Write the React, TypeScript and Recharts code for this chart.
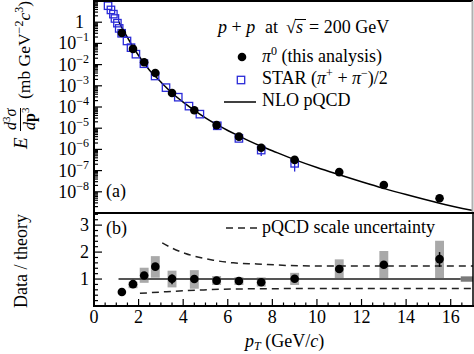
import React from "react";
import {
  ComposedChart,
  Line,
  Scatter,
  XAxis,
  YAxis,
  ErrorBar,
  ReferenceArea,
  ReferenceLine,
} from "recharts";

const FONT = '"Liberation Serif", "Times New Roman", serif';
const BLUE = "#2b2bd8";

// pi0 points (this analysis)
const pi0Pt = [1.25, 1.75, 2.25, 2.75, 3.5, 4.5, 5.5, 6.5, 7.5, 9, 11, 13, 15.5];
const pi0Xsec = [0.31, 0.055, 0.013, 0.004, 4.6e-4, 7.0e-5, 1.4e-5, 4.0e-6, 1.2e-6, 3.2e-7, 8.5e-8, 2.1e-8, 5.0e-9];
const pi0Ratio = [0.52, 0.81, 1.13, 1.46, 1.01, 1.0, 0.94, 0.93, 0.88, 1.01, 1.37, 1.53, 1.74];
const ratioErrLo = [0, 0, 0, 0.07, 0.2, 0, 0, 0, 0, 0, 0.07, 0.12, 0.29];
const ratioErrHi = [0, 0, 0, 0.07, 0.16, 0, 0, 0, 0, 0, 0.08, 0.1, 0.26];
// systematic boxes (null = no box)
const sysLo = [null, 0.66, 0.86, 1.05, 0.69, 0.64, 0.78, 0.78, 0.72, 0.78, 1.01, 1.02, 1.02];
const sysHi = [null, 0.9, 1.42, 1.85, 1.31, 1.33, 1.11, 1.07, 1.06, 1.23, 1.73, 2.04, 2.42];

// STAR (pi+ + pi-)/2
const starPt = [0.63, 0.76, 0.87, 0.94, 1.05, 1.13, 1.24, 1.48, 1.66, 1.88, 2.24, 2.74, 3.23, 3.78, 4.26, 4.75, 5.53, 6.5, 7.5, 9.0];
const starXsec = [6, 3.8, 2.4, 1.5, 0.9, 0.51, 0.3, 0.13, 0.063, 0.031, 0.011, 0.0029, 8.2e-4, 2.9e-4, 1.1e-4, 4.6e-5, 1.3e-5, 3.3e-6, 9.3e-7, 2.2e-7];
const starErrLo = [0, 0, 0, 0, 0, 0, 0, 0, 0, 0, 0, 0, 0, 0, 0, 0, 0, 0, 4.4e-7, 1.3e-7];
const starErrHi = [0, 0, 0, 0, 0, 0, 0, 0, 0, 0, 0, 0, 0, 0, 0, 0, 0, 0, 1.0e-7, 0.6e-7];

// NLO pQCD curve
const nloPt = [1.1, 1.25, 1.5, 1.75, 2, 2.25, 2.5, 2.75, 3, 3.5, 4, 4.5, 5, 5.5, 6, 6.5, 7, 7.5, 8, 9, 10, 11, 12, 13, 14, 15.5, 17];
const nloXsec = [1.1, 0.56, 0.19, 0.067, 0.027, 0.0115, 0.0053, 0.0028, 0.0015, 4.6e-4, 1.7e-4, 7.0e-5, 3.1e-5, 1.5e-5, 7.8e-6, 4.3e-6, 2.4e-6, 1.4e-6, 8.6e-7, 3.3e-7, 1.4e-7, 6.4e-8, 3.0e-8, 1.45e-8, 7.4e-9, 2.9e-9, 1.3e-9];

// scale uncertainty band
const scaleUpPt = [3.06, 3.5, 4.1, 5.35, 6.25, 7.3, 8.8, 10.6, 17];
const scaleUp = [2.34, 2.15, 1.95, 1.7, 1.6, 1.56, 1.5, 1.48, 1.48];
const scaleLoPt = [2.06, 3.26, 4.75, 6.25, 10.6, 17];
const scaleLo = [0.47, 0.53, 0.59, 0.63, 0.65, 0.65];

// normalisation box
const normBox = { x1: 16.45, x2: 17, y1: 0.9, y2: 1.1 };

// ticks
const binEdges = [1, 1.5, 2, 2.5, 3, 4, 5, 6, 7, 8, 10, 12, 14];
const xMajor = [0, 2, 4, 6, 8, 10, 12, 14, 16];
const xTicks = Array.from({ length: 34 }, (_, i) => i * 0.5);
const logTicks: number[] = [];
for (let e = -9; e <= 0; e++) for (let m = 1; m <= 9; m++) if (!(e === -9 && m === 1)) logTicks.push(m * Math.pow(10, e));
const ratioMajor = [1, 2, 3];
const ratioTicks = Array.from({ length: 17 }, (_, i) => Math.round((i + 1) * 2) / 10);

const pi0Data = pi0Pt.map((x, i) => ({ x, y: pi0Xsec[i] }));
const ratioData = pi0Pt.map((x, i) => ({ x, y: pi0Ratio[i], err: [ratioErrLo[i], ratioErrHi[i]] }));
const starData = starPt.map((x, i) => ({ x, y: starXsec[i], err: [starErrLo[i], starErrHi[i]] }));
const nloData = nloPt.map((x, i) => ({ x, y: nloXsec[i] }));
const upData = scaleUpPt.map((x, i) => ({ x, y: scaleUp[i] }));
const loData = scaleLoPt.map((x, i) => ({ x, y: scaleLo[i] }));

const isMajorLog = (v: number) => {
  const e = Math.round(Math.log10(v));
  return Math.abs(v / Math.pow(10, e) - 1) < 1e-6;
};

const LogTick = (p: any) => {
  const { x, y, payload } = p;
  const v = payload.value;
  const major = isMajorLog(v);
  const e = Math.round(Math.log10(v));
  return (
    <g>
      <line x1={x} x2={x + (major ? 8 : 4)} y1={y} y2={y} stroke="#000" strokeWidth={1.2} />
      {major && e === 0 && (
        <text x={x - 10} y={y + 6} textAnchor="end" fontSize={18} fontFamily={FONT} fill="#000">1</text>
      )}
      {major && e !== 0 && (
        <text x={x - 5} y={y + 6} textAnchor="end" fontSize={18} fontFamily={FONT} fill="#000">
          10<tspan dy={-8} fontSize={12}>{"\u2212" + Math.abs(e)}</tspan>
        </text>
      )}
    </g>
  );
};

const RatioTick = (side: "l" | "r") => (p: any) => {
  const { x, y, payload } = p;
  const v = payload.value;
  const major = ratioMajor.includes(v);
  const len = major ? 8 : 4;
  return (
    <g>
      <line x1={x} x2={side === "l" ? x + len : x - len} y1={y} y2={y} stroke="#000" strokeWidth={1.2} />
      {major && side === "l" && (
        <text x={x - 5} y={y + 6} textAnchor="end" fontSize={18} fontFamily={FONT} fill="#000">{v}</text>
      )}
    </g>
  );
};

const XTick = (dir: "up" | "down", labels: boolean) => (p: any) => {
  const { x, y, payload } = p;
  const v = payload.value;
  const major = xMajor.includes(v);
  const len = major ? 7 : 3.5;
  return (
    <g>
      <line x1={x} x2={x} y1={y} y2={dir === "up" ? y - len : y + len} stroke="#000" strokeWidth={1.2} />
      {labels && major && (
        <text x={x} y={y + 17} textAnchor="middle" fontSize={18} fontFamily={FONT} fill="#000">{v}</text>
      )}
    </g>
  );
};

const EdgeTick = (p: any) => (
  <line x1={p.x} x2={p.x} y1={p.y} y2={p.y + 6} stroke="#000" strokeWidth={1.2} />
);

const Dot = (p: any) => <circle cx={p.cx} cy={p.cy} r={4.3} fill="#000" />;
const Square = (p: any) => (
  <rect x={p.cx - 3.7} y={p.cy - 3.7} width={7.4} height={7.4} fill="none" stroke={BLUE} strokeWidth={1.3} />
);

export default function App() {
  return (
    <div style={{ position: "absolute", left: 0, top: 0, width: 474, height: 354, background: "#fff" }}>
      <div style={{ position: "absolute", left: 0, top: 0 }}>
        <ComposedChart width={474} height={213} margin={{ top: 1, right: 1, bottom: 0, left: 0 }}>
          <XAxis xAxisId="b" dataKey="x" type="number" domain={[0, 17]} ticks={xTicks} interval={0}
            height={0} tickSize={0} tickMargin={0} axisLine={false} tickLine={false} tick={XTick("up", false)} allowDataOverflow />
          <XAxis xAxisId="t" orientation="top" dataKey="x" type="number" domain={[0, 17]} ticks={binEdges} interval={0}
            height={0} tickSize={0} tickMargin={0} axisLine={false} tickLine={false} tick={EdgeTick} allowDataOverflow />
          <YAxis yAxisId="l" type="number" scale="log" domain={[1e-9, 10]} ticks={logTicks} interval={0}
            width={94} tickSize={0} tickMargin={0} axisLine={false} tickLine={false} tick={LogTick} allowDataOverflow />
          <Line xAxisId="b" yAxisId="l" data={nloData} dataKey="y" type="monotone" stroke="#000" strokeWidth={1.5}
            dot={false} isAnimationActive={false} />
          <Scatter xAxisId="b" yAxisId="l" data={starData} dataKey="y" shape={Square} isAnimationActive={false}>
            <ErrorBar dataKey="err" direction="y" width={0} stroke={BLUE} strokeWidth={1.3} />
          </Scatter>
          <Scatter xAxisId="b" yAxisId="l" data={pi0Data} dataKey="y" shape={Dot} isAnimationActive={false} />
        </ComposedChart>
      </div>
      <div style={{ position: "absolute", left: 0, top: 213 }}>
        <ComposedChart width={474} height={141} margin={{ top: 0, right: 1, bottom: 0, left: 0 }}>
          <XAxis xAxisId="b" dataKey="x" type="number" domain={[0, 17]} ticks={xTicks} interval={0}
            height={48} tickSize={0} tickMargin={0} axisLine={false} tickLine={false} tick={XTick("up", true)} allowDataOverflow />
          <YAxis yAxisId="l" type="number" domain={[0, 3.45]} ticks={ratioTicks} interval={0}
            width={94} tickSize={0} tickMargin={0} axisLine={false} tickLine={false} tick={RatioTick("l")} allowDataOverflow />
          <YAxis yAxisId="r" orientation="right" type="number" domain={[0, 3.45]} ticks={ratioTicks} interval={0}
            width={0} tickSize={0} tickMargin={0} axisLine={false} tickLine={false} tick={RatioTick("r")} allowDataOverflow />
          {pi0Pt.map((x, i) =>
            sysLo[i] == null ? null : (
              <ReferenceArea key={"s" + i} xAxisId="b" yAxisId="l" x1={x - 0.2} x2={x + 0.2} y1={sysLo[i] as number}
                y2={sysHi[i] as number} fill="#a9a9a9" fillOpacity={1} stroke="none" ifOverflow="visible" />
            )
          )}
          <ReferenceArea xAxisId="b" yAxisId="l" x1={normBox.x1} x2={normBox.x2} y1={normBox.y1} y2={normBox.y2}
            fill="#7a7a7a" fillOpacity={1} stroke="none" ifOverflow="visible" />
          <ReferenceLine xAxisId="b" yAxisId="l" segment={[{ x: 1.1, y: 1 }, { x: 16.45, y: 1 }]} stroke="#555" strokeWidth={2} />
          <Line xAxisId="b" yAxisId="l" data={upData} dataKey="y" type="monotone" stroke="#222" strokeWidth={1.5}
            strokeDasharray="7 5" dot={false} isAnimationActive={false} />
          <Line xAxisId="b" yAxisId="l" data={loData} dataKey="y" type="monotone" stroke="#222" strokeWidth={1.5}
            strokeDasharray="7 5" dot={false} isAnimationActive={false} />
          <Scatter xAxisId="b" yAxisId="l" data={ratioData} dataKey="y" shape={Dot} isAnimationActive={false}>
            <ErrorBar dataKey="err" direction="y" width={0} stroke="#000" strokeWidth={1.5} />
          </Scatter>
        </ComposedChart>
      </div>
      <svg width={474} height={354} style={{ position: "absolute", left: 0, top: 0, pointerEvents: "none" }}
        fontFamily={FONT} fill="#000">
        {/* frame */}
        <line x1={93} y1={1} x2={473} y2={1} stroke="#000" strokeWidth={2} />
        <line x1={94} y1={0} x2={94} y2={307} stroke="#000" strokeWidth={2} />
        <line x1={93} y1={213} x2={474} y2={213} stroke="#000" strokeWidth={2} />
        <line x1={93} y1={306} x2={474} y2={306} stroke="#000" strokeWidth={2} />
        <line x1={472.5} y1={1} x2={472.5} y2={212} stroke="#b0b0b0" strokeWidth={2} />
        <line x1={473} y1={213} x2={473} y2={306} stroke="#000" strokeWidth={1.5} />

        {/* panel a legend */}
        <text x={218} y={33} fontSize={18}>
          <tspan fontStyle="italic">p</tspan> + <tspan fontStyle="italic">p</tspan>
        </text>
        <text x={265} y={33} fontSize={18}>at</text>
        <text x={286} y={33} fontSize={18}>{"\u221A"}</text>
        <line x1={295} y1={19.5} x2={306} y2={19.5} stroke="#000" strokeWidth={1} />
        <text x={296} y={33} fontSize={18} fontStyle="italic">s</text>
        <text x={309} y={33} fontSize={18}>= 200 GeV</text>

        <circle cx={242} cy={57} r={4.3} fill="#000" />
        <text x={262} y={62} fontSize={18}>
          <tspan fontStyle="italic">{"\u03C0"}</tspan>
          <tspan dy={-7} fontSize={12}>0</tspan>
          <tspan dy={7}> (this analysis)</tspan>
        </text>
        <rect x={237.3} y={76.3} width={7.4} height={7.4} fill="none" stroke={BLUE} strokeWidth={1.3} />
        <text x={262} y={84} fontSize={18}>
          STAR (<tspan fontStyle="italic">{"\u03C0"}</tspan>
          <tspan dy={-7} fontSize={12}>+</tspan>
          <tspan dy={7}> + </tspan>
          <tspan fontStyle="italic">{"\u03C0"}</tspan>
          <tspan dy={-7} fontSize={12}>{"\u2212"}</tspan>
          <tspan dy={7}>)/2</tspan>
        </text>
        <line x1={224} y1={102} x2={256} y2={102} stroke="#000" strokeWidth={1.5} />
        <text x={262} y={106} fontSize={18}>NLO pQCD</text>
        <text x={106} y={197} fontSize={18}>(a)</text>

        {/* panel b legend */}
        <text x={106} y={234} fontSize={18}>(b)</text>
        <line x1={226} y1={228} x2={258} y2={228} stroke="#222" strokeWidth={1.5} strokeDasharray="7 5" />
        <text x={262} y={233} fontSize={18}>pQCD scale uncertainty</text>

        {/* axis titles */}
        <g transform="translate(0,213) rotate(-90)">
          <text x={64} y={27} fontSize={19} fontStyle="italic">E</text>
          <text x={83} y={16} fontSize={16}>
            <tspan fontStyle="italic">d</tspan>
            <tspan dy={-6} fontSize={11}>3</tspan>
            <tspan dy={6} fontStyle="italic">{"\u03C3"}</tspan>
          </text>
          <line x1={82} x2={105} y1={20.5} y2={20.5} stroke="#000" strokeWidth={1} />
          <text x={83} y={35} fontSize={16}>
            <tspan fontStyle="italic">d</tspan>
            <tspan fontWeight="bold">p</tspan>
            <tspan dy={-6} fontSize={11}>3</tspan>
          </text>
          <text x={114} y={30} fontSize={17.5}>
            (mb GeV<tspan dy={-7} fontSize={12}>{"\u2212"}2</tspan>
            <tspan dy={7} fontStyle="italic">c</tspan>
            <tspan dy={-7} fontSize={12}>3</tspan>
            <tspan dy={7}>)</tspan>
          </text>
        </g>
        <text transform="translate(27,261) rotate(-90)" textAnchor="middle" fontSize={18}>Data / theory</text>
        <text x={245} y={347} fontSize={18}>
          <tspan fontStyle="italic">p</tspan>
          <tspan dy={3} fontSize={12} fontStyle="italic">T</tspan>
          <tspan dy={-3}> (GeV/</tspan>
          <tspan fontStyle="italic">c</tspan>)
        </text>
      </svg>
    </div>
  );
}
